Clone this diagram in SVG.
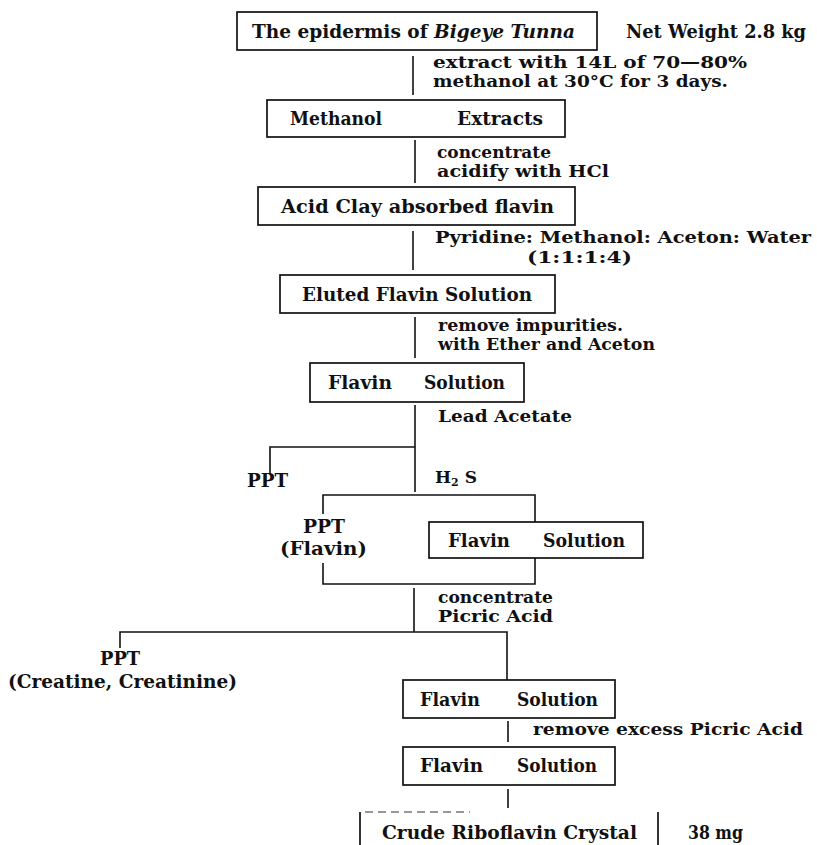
<svg xmlns="http://www.w3.org/2000/svg" width="817" height="845" viewBox="0 0 817 845">
<style>
  .bg { fill: #ffffff; }
  .box { fill: none; stroke: #111; stroke-width: 1.7; }
  .ln { fill: none; stroke: #111; stroke-width: 1.6; }
  .faint { fill: none; stroke: #333; stroke-width: 1.2; stroke-dasharray: 8 5; }
  text { font-family: "DejaVu Serif", "Liberation Serif", serif; font-weight: bold; fill: #111; }
  .bt { font-size: 19px; }
  .lb { font-size: 17px; }
  .pp { font-size: 18px; }
  .it { font-style: italic; }
</style>
<rect class="bg" x="0" y="0" width="817" height="845"/>

<g id="connectors">
  <path class="ln" d="M413 56 V95"/>
  <path class="ln" d="M415 140 V183"/>
  <path class="ln" d="M413 231 V270"/>
  <path class="ln" d="M415 317 V358"/>
  <path class="ln" d="M415 405 V492"/>
  <path class="ln" d="M415 447 H270 V474"/>
  <path class="ln" d="M323 514 V495 H535 V522"/>
  <path class="ln" d="M323 563 V584 H535 V558"/>
  <path class="ln" d="M414 588 V632"/>
  <path class="ln" d="M120 648 V632 H507 V680"/>
  <path class="ln" d="M508 721 V742"/>
  <path class="ln" d="M508 789 V808"/>
</g>

<g id="n1">
  <rect class="box" x="237" y="12" width="360" height="38"/>
  <text class="bt" x="252" y="38" textLength="323" lengthAdjust="spacingAndGlyphs">The epidermis of <tspan class="it">Bigeye Tunna</tspan></text>
</g>
<g id="n1-weight">
  <text class="bt" x="626" y="38" textLength="180" lengthAdjust="spacingAndGlyphs">Net Weight 2.8 kg</text>
</g>
<g id="l1">
  <text class="lb" x="433" y="68" textLength="314" lengthAdjust="spacingAndGlyphs">extract with 14L of 70—80%</text>
  <text class="lb" x="433" y="87" textLength="295" lengthAdjust="spacingAndGlyphs">methanol at 30°C for 3 days.</text>
</g>

<g id="n2">
  <rect class="box" x="267" y="100" width="298" height="37"/>
  <text class="bt" x="290" y="125" textLength="92" lengthAdjust="spacingAndGlyphs">Methanol</text>
  <text class="bt" x="457" y="125" textLength="86" lengthAdjust="spacingAndGlyphs">Extracts</text>
</g>
<g id="l2">
  <text class="lb" x="437" y="158" textLength="114" lengthAdjust="spacingAndGlyphs">concentrate</text>
  <text class="lb" x="437" y="177" textLength="172" lengthAdjust="spacingAndGlyphs">acidify with HCl</text>
</g>

<g id="n3">
  <rect class="box" x="258" y="187" width="317" height="38"/>
  <text class="bt" x="281" y="213" textLength="273" lengthAdjust="spacingAndGlyphs">Acid Clay absorbed flavin</text>
</g>
<g id="l3">
  <text class="lb" x="435" y="243" textLength="376" lengthAdjust="spacingAndGlyphs">Pyridine: Methanol: Aceton: Water</text>
  <text class="lb" x="527" y="263" textLength="105" lengthAdjust="spacingAndGlyphs">(1:1:1:4)</text>
</g>

<g id="n4">
  <rect class="box" x="280" y="275" width="275" height="38"/>
  <text class="bt" x="302" y="301" textLength="230" lengthAdjust="spacingAndGlyphs">Eluted Flavin Solution</text>
</g>
<g id="l4">
  <text class="lb" x="438" y="331" textLength="185" lengthAdjust="spacingAndGlyphs">remove impurities.</text>
  <text class="lb" x="438" y="350" textLength="217" lengthAdjust="spacingAndGlyphs">with Ether and Aceton</text>
</g>

<g id="n5">
  <rect class="box" x="310" y="363" width="214" height="39"/>
  <text class="bt" x="328" y="389" textLength="64" lengthAdjust="spacingAndGlyphs">Flavin</text>
  <text class="bt" x="424" y="389" textLength="81" lengthAdjust="spacingAndGlyphs">Solution</text>
</g>
<g id="l5">
  <text class="lb" x="438" y="422" textLength="134" lengthAdjust="spacingAndGlyphs">Lead Acetate</text>
</g>

<g id="n-ppt1">
  <text class="pp" x="247" y="487" textLength="41" lengthAdjust="spacingAndGlyphs">PPT</text>
</g>
<g id="l6">
  <text class="lb" x="435" y="483">H<tspan font-size="11" dy="3">2</tspan><tspan dy="-3"> S</tspan></text>
</g>

<g id="n-ppt2">
  <text class="pp" x="303" y="533" textLength="42" lengthAdjust="spacingAndGlyphs">PPT</text>
  <text class="pp" x="280" y="555" textLength="87" lengthAdjust="spacingAndGlyphs">(Flavin)</text>
</g>

<g id="n6">
  <rect class="box" x="429" y="522" width="214" height="36"/>
  <text class="bt" x="448" y="547" textLength="62" lengthAdjust="spacingAndGlyphs">Flavin</text>
  <text class="bt" x="543" y="547" textLength="82" lengthAdjust="spacingAndGlyphs">Solution</text>
</g>

<g id="l7">
  <text class="lb" x="438" y="603" textLength="115" lengthAdjust="spacingAndGlyphs">concentrate</text>
  <text class="lb" x="438" y="622" textLength="115" lengthAdjust="spacingAndGlyphs">Picric Acid</text>
</g>

<g id="n-ppt3">
  <text class="pp" x="100" y="665" textLength="40" lengthAdjust="spacingAndGlyphs">PPT</text>
  <text class="pp" x="8" y="688" textLength="229" lengthAdjust="spacingAndGlyphs">(Creatine, Creatinine)</text>
</g>

<g id="n7">
  <rect class="box" x="403" y="680" width="212" height="38"/>
  <text class="bt" x="420" y="706" textLength="60" lengthAdjust="spacingAndGlyphs">Flavin</text>
  <text class="bt" x="517" y="706" textLength="81" lengthAdjust="spacingAndGlyphs">Solution</text>
</g>
<g id="l8">
  <text class="lb" x="533" y="735" textLength="270" lengthAdjust="spacingAndGlyphs">remove excess Picric Acid</text>
</g>

<g id="n8">
  <rect class="box" x="403" y="747" width="212" height="38"/>
  <text class="bt" x="420" y="772" textLength="63" lengthAdjust="spacingAndGlyphs">Flavin</text>
  <text class="bt" x="517" y="772" textLength="80" lengthAdjust="spacingAndGlyphs">Solution</text>
</g>

<g id="n9">
  <path class="box" d="M360 812 V845 M658 812 V845"/>
  <path class="faint" d="M365 812 H470"/>
  <text class="bt" x="382" y="839" textLength="255" lengthAdjust="spacingAndGlyphs">Crude Riboflavin Crystal</text>
</g>
<g id="n9-weight">
  <text class="bt" x="688" y="839" textLength="55" lengthAdjust="spacingAndGlyphs">38 mg</text>
</g>
</svg>
